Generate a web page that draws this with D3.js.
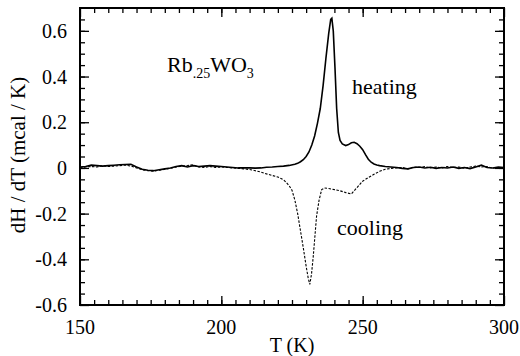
<!DOCTYPE html>
<html><head><meta charset="utf-8">
<script src="https://cdn.jsdelivr.net/npm/d3@7"></script>
<style>body{margin:0;background:#fff}</style>
</head><body><svg id="c" width="520" height="356"></svg>
<script>
const heatT = [150,152,154,156,158,160,162,164,166,168,170,172,174,176,178,180,182,184,186,188,190,192,194,196,198,200,202,204,206,208,210,212,214,216,218,220,222,224,226,227,228,229,230,231,232,233,234,235,236,237,238,238.7,239.1,239.6,240.2,240.8,241.4,242,242.8,244,245,246,247,248,249,250,251,252,253,254,255,256,258,260,262,264,266,268,270,272,274,276,278,280,282,284,286,288,290,292,294,296,298,300];
const heatV = [0.004,0.006,0.012,0.010,0.008,0.010,0.012,0.014,0.015,0.016,0.004,-0.006,-0.010,-0.012,-0.008,-0.004,0.000,0.006,0.010,0.004,0.010,0.006,0.008,0.010,0.008,0.006,0.004,0.002,0.000,0.001,0.000,-0.001,0.000,0.003,0.004,0.006,0.008,0.011,0.016,0.020,0.027,0.036,0.050,0.070,0.100,0.140,0.195,0.260,0.360,0.480,0.590,0.650,0.655,0.600,0.440,0.260,0.155,0.120,0.105,0.098,0.102,0.110,0.112,0.106,0.095,0.080,0.058,0.038,0.025,0.017,0.013,0.010,0.006,0.004,0.002,-0.002,-0.004,0.002,0.004,0.000,0.003,-0.002,0.002,0.000,0.004,-0.002,0.002,-0.003,0.004,0.012,0.002,0.000,0.004,0.002];
const coolT = [150,152,154,156,158,160,162,164,166,168,170,172,174,176,178,180,182,184,186,188,190,192,194,196,198,200,202,204,206,208,210,212,214,216,218,220,222,223,224,225,226,227,228,229,230,230.7,231.3,231.9,232.5,233.1,233.7,234.6,235.5,236.5,238,240,242,244,246,247,248,249,250,252,254,256,258,260,262,264,266,268,270,272,274,276,278,280,282,284,286,288,290,292,294,296,298,300];
const coolV = [0.002,0.004,0.006,0.004,0.010,0.006,0.008,0.010,0.012,0.008,0.000,-0.008,-0.012,-0.014,-0.010,-0.006,-0.002,0.004,0.008,0.010,0.014,0.004,0.002,0.006,0.002,0.004,0.002,0.000,-0.002,-0.004,-0.007,-0.012,-0.018,-0.026,-0.033,-0.040,-0.052,-0.064,-0.078,-0.098,-0.140,-0.200,-0.275,-0.350,-0.430,-0.480,-0.510,-0.465,-0.390,-0.300,-0.210,-0.140,-0.095,-0.088,-0.090,-0.095,-0.100,-0.108,-0.114,-0.100,-0.086,-0.072,-0.058,-0.042,-0.028,-0.015,-0.006,-0.002,0.000,0.002,-0.004,0.004,0.002,0.006,0.000,0.004,0.000,0.006,0.002,0.004,-0.002,0.004,0.008,0.004,0.006,-0.002,0.002,0.000];
const xMajor = [150,200,250,300];
const xMajorLabels = ["150","200","250","300"];
const yMajor = [0.6,0.4,0.2,0,-0.2,-0.4,-0.6];
const yMajorLabels = ["0.6","0.4","0.2","0","-0.2","-0.4","-0.6"];
const xMinor = d3.range(155,300,5);
const yMinor = d3.range(-0.55,0.70,0.05);

const L=80,R=504,T=8,B=305;
const x = d3.scaleLinear().domain([150,300]).range([L,R]);
const y = d3.scaleLinear().domain([-0.6,0.7]).range([B,T]);
const svg = d3.select("#c");

function ticks(axisFn, scale, vals, size, tr){
  const a = axisFn(scale).tickValues(vals).tickSize(size).tickFormat("");
  const g = svg.append("g").attr("transform",tr).call(a);
  g.select(".domain").remove();
  g.selectAll("text").remove();
  g.attr("font-family",null);
  g.selectAll("line").attr("stroke","#000").attr("stroke-width",1.3);
}
ticks(d3.axisBottom, x, xMinor, -5, `translate(0,${B})`);
ticks(d3.axisBottom, x, xMajor, -9, `translate(0,${B})`);
ticks(d3.axisTop, x, xMinor, -5, `translate(0,${T})`);
ticks(d3.axisTop, x, xMajor, -9, `translate(0,${T})`);
ticks(d3.axisLeft, y, yMinor, -5, `translate(${L},0)`);
ticks(d3.axisLeft, y, yMajor, -9, `translate(${L},0)`);
ticks(d3.axisRight, y, yMinor, -5, `translate(${R},0)`);
ticks(d3.axisRight, y, yMajor, -9, `translate(${R},0)`);

svg.append("rect").attr("x",L).attr("y",T).attr("width",R-L).attr("height",B-T)
  .attr("fill","none").attr("stroke","#000").attr("stroke-width",2);

function txt(sel){ return sel.style("font-family",'"Liberation Serif"'); }

txt(svg.append("g").selectAll("text").data(xMajor).join("text")
  .attr("x",d=>x(d)).attr("y",334).attr("text-anchor","middle").attr("font-size",20)
  .text((d,i)=>xMajorLabels[i]));
txt(svg.append("g").selectAll("text").data(yMajor).join("text")
  .attr("x",67).attr("y",d=>y(d)+7).attr("text-anchor","end").attr("font-size",20)
  .text((d,i)=>yMajorLabels[i]));

txt(svg.append("text").attr("x",(L+R)/2).attr("y",352).attr("text-anchor","middle").attr("font-size",20).text("T (K)"));
txt(svg.append("text").attr("transform","translate(25,155) rotate(-90)").attr("text-anchor","middle").attr("font-size",21).text("dH / dT (mcal / K)"));

const line = d3.line().x(d=>x(d[0])).y(d=>y(d[1]));
svg.append("path").datum(coolT.map((t,i)=>[t,coolV[i]])).attr("d",line)
  .attr("fill","none").attr("stroke","#000").attr("stroke-width",1.1).attr("stroke-dasharray","2.5,1.5");
svg.append("path").datum(heatT.map((t,i)=>[t,heatV[i]])).attr("d",line)
  .attr("fill","none").attr("stroke","#000").attr("stroke-width",1.6);

const f = txt(svg.append("text").attr("x",167).attr("y",72).attr("font-size",22));
f.append("tspan").text("Rb");
f.append("tspan").attr("font-size",14).attr("dy",6).text(".25");
f.append("tspan").attr("dy",-6).text("WO");
f.append("tspan").attr("font-size",14).attr("dy",6).text("3");

txt(svg.append("text").attr("x",352).attr("y",94).attr("font-size",22).text("heating"));
txt(svg.append("text").attr("x",337).attr("y",235).attr("font-size",22).text("cooling"));
</script></body></html>
